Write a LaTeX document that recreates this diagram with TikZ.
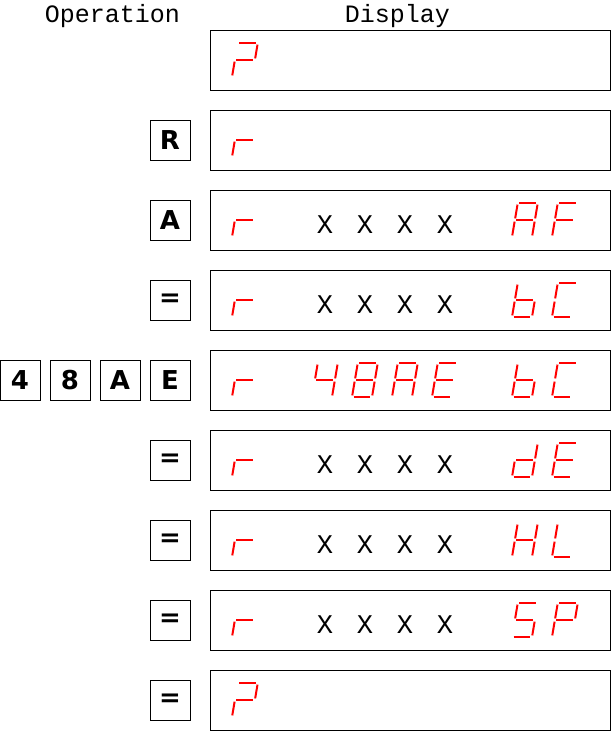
\documentclass[tikz,border=0pt]{standalone}
\usepackage{fontspec}
\newfontfamily\hdrfont{Liberation Mono}
\newfontfamily\keyfont{DejaVu Sans}[BoldFont={DejaVu Sans Bold}]
\definecolor{segred}{RGB}{255,0,0}
\tikzset{
  seg/.style={draw=segred, line width=2pt, line cap=butt},
  keybox/.style={draw=black, line width=1pt, minimum width=40pt, minimum height=40pt, inner sep=0pt, font=\keyfont\bfseries\fontsize{26}{26}\selectfont},
  dispbox/.style={draw=black, line width=1pt, minimum width=400pt, minimum height=60pt, inner sep=0pt},
  hdr/.style={font=\hdrfont\fontsize{25}{25}\selectfont, anchor=base, inner sep=0pt},
  xmark/.style={font=\hdrfont\fontsize{27}{27}\selectfont, anchor=base, inner sep=0pt}
}
\newcommand\ssega{\draw[seg] (1.6,34) -- (18.4,34);}
\newcommand\ssegb{\draw[seg] (20,32.4) -- (20,18.6);}
\newcommand\ssegc{\draw[seg] (20,15.4) -- (20,1.6);}
\newcommand\ssegd{\draw[seg] (1.6,0) -- (18.4,0);}
\newcommand\ssege{\draw[seg] (0,1.6) -- (0,15.4);}
\newcommand\ssegf{\draw[seg] (0,18.6) -- (0,32.4);}
\newcommand\ssegg{\draw[seg] (1.6,17) -- (18.4,17);}
% digit position k, row top y, segment list
\newcommand\ssd[3]{%
  \begin{scope}[shift={({232+40*#1},{-(#2+47)})},xslant=0.17]
    \foreach \s in {#3}{\csname sseg\s\endcsname}
  \end{scope}}
\newcommand\xxxx[1]{%
  \foreach \k in {2,3,4,5}{\node[xmark] (x#1\k) at ({232+40*\k+13},{-(#1+43.5)}) {X};}}
\begin{document}
\begin{tikzpicture}[x=1pt,y=1pt]
\useasboundingbox (0,0) rectangle (611,-731);
\node[hdr] (hop) at (112.5,-22) {Operation};
\node[hdr] (hdp) at (397.5,-22) {Display};
% display boxes
\foreach \i in {0,...,8}{
  \node[dispbox] (d\i) at (410,{-(30+80*\i+30)}) {};
}
% keys
\node[keybox] (kR) at (170,-140) {R};
\node[keybox] (kA) at (170,-220) {A};
\node[keybox] (kEq1) at (170,-300) {=};
\node[keybox] (k4) at (20,-380) {4};
\node[keybox] (k8) at (70,-380) {8};
\node[keybox] (kA2) at (120,-380) {A};
\node[keybox] (kE) at (170,-380) {E};
\node[keybox] (kEq2) at (170,-460) {=};
\node[keybox] (kEq3) at (170,-540) {=};
\node[keybox] (kEq4) at (170,-620) {=};
\node[keybox] (kEq5) at (170,-700) {=};
% row 0
\ssd{0}{30}{a,b,g,e}
% row 1
\ssd{0}{110}{e,g}
% row 2
\ssd{0}{190}{e,g}
\xxxx{190}
\ssd{7}{190}{a,b,c,e,f,g}
\ssd{8}{190}{a,e,f,g}
% row 3
\ssd{0}{270}{e,g}
\xxxx{270}
\ssd{7}{270}{c,d,e,f,g}
\ssd{8}{270}{a,d,e,f}
% row 4
\ssd{0}{350}{e,g}
\ssd{2}{350}{f,g,b,c}
\ssd{3}{350}{a,b,c,d,e,f,g}
\ssd{4}{350}{a,b,c,e,f,g}
\ssd{5}{350}{a,d,e,f,g}
\ssd{7}{350}{c,d,e,f,g}
\ssd{8}{350}{a,d,e,f}
% row 5
\ssd{0}{430}{e,g}
\xxxx{430}
\ssd{7}{430}{b,c,d,e,g}
\ssd{8}{430}{a,d,e,f,g}
% row 6
\ssd{0}{510}{e,g}
\xxxx{510}
\ssd{7}{510}{b,c,e,f,g}
\ssd{8}{510}{d,e,f}
% row 7
\ssd{0}{590}{e,g}
\xxxx{590}
\ssd{7}{590}{a,f,g,c,d}
\ssd{8}{590}{a,b,f,g,e}
% row 8
\ssd{0}{670}{a,b,g,e}
\end{tikzpicture}
\end{document}
